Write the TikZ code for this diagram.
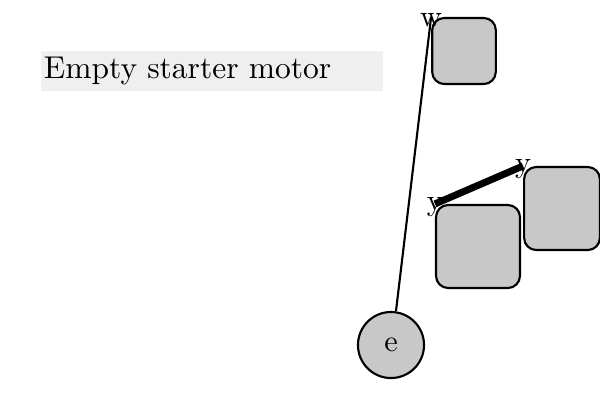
\documentclass[tikz,border=0pt]{standalone}
\usepackage{xcolor}
\usepackage{tikz}
\usetikzlibrary{arrows}

\definecolor{partgray}{HTML}{C8C8C8}
\definecolor{titlegray}{HTML}{EFEFEF}

\begin{document}
\begin{tikzpicture}[x=0.33pt,y=-0.33pt,semithick]

		\tikzstyle{every node}=[inner sep=0pt]
		\tikzstyle{part}=[draw=black,fill=partgray,rounded corners=4pt,line width=0.7pt]
		\tikzstyle{joint}=[draw=black,fill=partgray,circle,line width=0.7pt,minimum size=21.8pt]
		\tikzstyle{link}=[line width=0.7pt]
		\tikzstyle{tag}=[yshift=-1pt]

		\useasboundingbox (0,0) rectangle (600,400);

		\node[fill=titlegray,anchor=north west,inner xsep=1pt,text width=110.9pt,minimum height=13.2pt] (Title) at (40,50) {\fontsize{10.4}{12}\selectfont Empty starter motor};

		\node[part,minimum width=21pt,minimum height=21.8pt]   (W)  at (464,51)    {};
		\node[part,minimum width=27.7pt,minimum height=27.4pt] (Y1) at (478,246.5) {};
		\node[part,minimum width=25pt,minimum height=27.4pt]   (Y2) at (562,208.5) {};
		\node[joint] (E) at (391,345) {e};

		\path 	(E.north) ++(5,0) coordinate (Etop);
		\draw[link] (Etop) -- (W.north west) node[tag,pos=1] {w};
		\draw[line width=2.3pt] (Y1.north west) node[tag] {y} -- (Y2.north west) node[tag] {y};

	\end{tikzpicture}
\end{document}
